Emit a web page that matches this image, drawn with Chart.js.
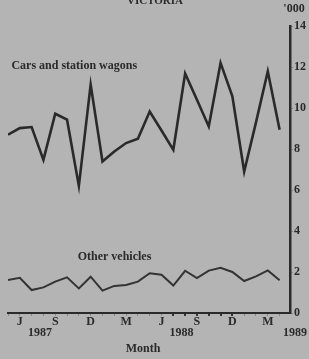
<!DOCTYPE html>
<html>
<head>
<meta charset="utf-8">
<script src="https://cdn.jsdelivr.net/npm/chart.js@4"></script>
<style>
  html, body { margin: 0; padding: 0; background: #b4b4b4; }
  #wrap { width: 309px; height: 359px; }
</style>
</head>
<body>
<div id="wrap"><canvas id="chart-victoria"></canvas></div>
<script>
// May 1987 .. April 1989, thousands of vehicles
const months = ['May', 'Jun', 'Jul', 'Aug', 'Sep', 'Oct', 'Nov', 'Dec', 'Jan', 'Feb', 'Mar', 'Apr',
  'May', 'Jun', 'Jul', 'Aug', 'Sep', 'Oct', 'Nov', 'Dec', 'Jan', 'Feb', 'Mar', 'Apr'];
const monthTicks = ['', 'J', '', '', 'S', '', '', 'D', '', '', 'M', '',
  '', 'J', '', '', 'S', '', '', 'D', '', '', 'M', ''];
const cars = [8.7, 9.02, 9.07, 7.47, 9.72, 9.43, 6.2, 11.14, 7.39, 7.88, 8.29, 8.5,
  9.83, 8.9, 7.96, 11.68, 10.4, 9.1, 12.2, 10.57, 6.9, 9.3, 11.79, 8.94];
const others = [1.61, 1.72, 1.12, 1.25, 1.53, 1.74, 1.2, 1.77, 1.09, 1.32, 1.37, 1.53,
  1.94, 1.87, 1.34, 2.06, 1.7, 2.07, 2.21, 2.0, 1.56, 1.79, 2.08, 1.6];
const years = ['1987', '1988', '1989'];
const yTicks = [0, 2, 4, 6, 8, 10, 12, 14];

const ink = '#2a2a2a';
const serif = 'Liberation Serif';

const toPoints = (arr) => arr.map((v, i) => ({ x: i, y: v }));

const annotate = {
  id: 'annotate',
  afterDraw(chart) {
    const { ctx, scales: { x, y } } = chart;
    ctx.save();
    ctx.fillStyle = ink;
    ctx.textBaseline = 'middle';
    ctx.font = `bold 12px "${serif}"`;
    ctx.textAlign = 'left';
    ctx.fillText('Cars and station wagons', x.getPixelForValue(0.29), y.getPixelForValue(12.03));
    ctx.fillText('Other vehicles', x.getPixelForValue(5.9), y.getPixelForValue(2.75));
    ctx.textAlign = 'center';
    const yearAt = [2.7, 14.7, 24.3];
    years.forEach((t, i) => ctx.fillText(t, x.getPixelForValue(yearAt[i]), 333));
    ctx.fillText('Month', 143, 349);
    ctx.fillText("'000", 294, 9);
    ctx.font = `bold 11px "${serif}"`;
    ctx.textBaseline = 'alphabetic';
    ctx.fillText('VICTORIA', 155, 4);
    ctx.restore();
  }
};

const options = {
  responsive: true,
  maintainAspectRatio: false,
  animation: false,
  layout: { padding: { top: 26, left: 8, right: 0, bottom: 0 } },
  plugins: { legend: { display: false }, tooltip: { enabled: false } },
  elements: { point: { radius: 0 } },
  scales: {
    x: {
      type: 'linear',
      min: 0,
      max: 23.88,
      afterBuildTicks: (axis) => { axis.ticks = months.map((m, i) => ({ value: i })); },
      afterFit: (axis) => { axis.height = 46; },
      border: { color: ink, width: 2 },
      grid: {
        drawOnChartArea: false,
        tickLength: 3,
        color: (c) => (c.index >= 14 && c.index <= 19 ? '#333' : '#8a8a8a'),
        lineWidth: (c) => (c.index >= 14 && c.index <= 19 ? 2 : 1)
      },
      ticks: {
        autoSkip: false,
        maxRotation: 0,
        padding: -1,
        color: ink,
        font: { family: serif, size: 12, weight: 'bold' },
        callback: (v, i) => monthTicks[i]
      }
    },
    y: {
      position: 'right',
      min: 0,
      max: 14,
      afterBuildTicks: (axis) => { axis.ticks = yTicks.map((v) => ({ value: v })); },
      afterFit: (axis) => { axis.width = 19; },
      border: { color: ink, width: 2.5 },
      grid: { drawOnChartArea: false, tickLength: 3, color: '#8a8a8a' },
      ticks: {
        padding: 1,
        color: ink,
        font: { family: serif, size: 12, weight: 'bold' }
      }
    }
  }
};

new Chart(document.getElementById('chart-victoria'), {
  type: 'line',
  data: {
    datasets: [
      { data: toPoints(cars), borderColor: ink, borderWidth: 2.6, tension: 0, fill: false },
      { data: toPoints(others), borderColor: '#333', borderWidth: 2, tension: 0, fill: false }
    ]
  },
  options,
  plugins: [annotate]
});
</script>
</body>
</html>
